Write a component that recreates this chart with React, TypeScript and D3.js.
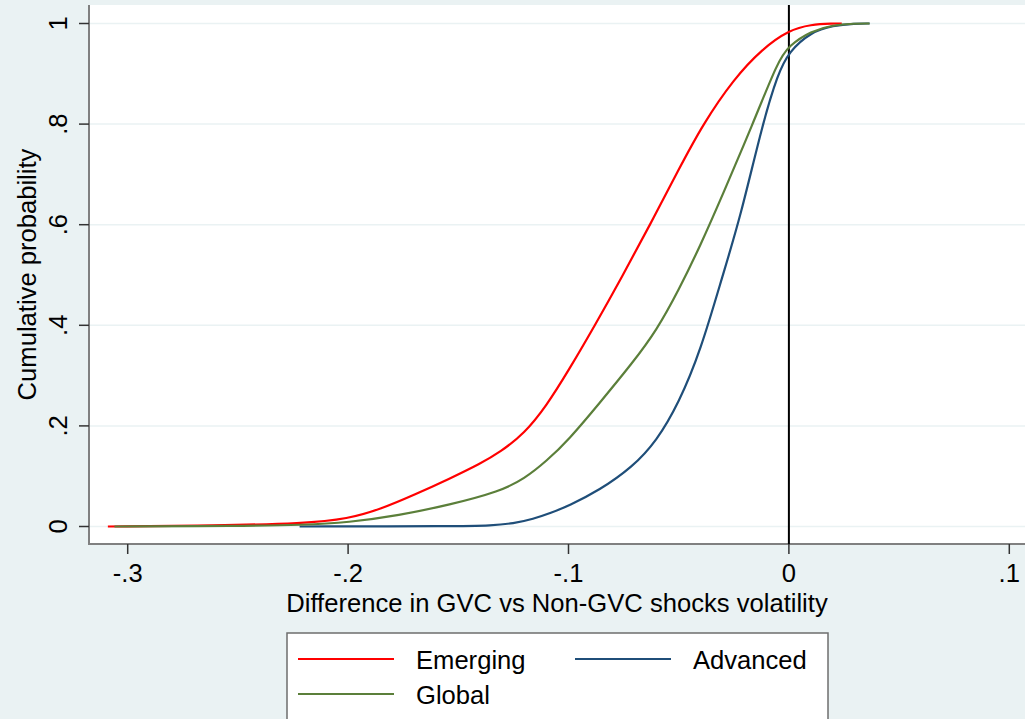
import React from 'react';
import * as d3 from 'd3';

const owidth = 1025;
const oheight = 719;

// plot region (white) and axis placement
const plotLeft = 89;
const plotTop = 5;
const plotRight = 1025;
const plotBottom = 544;

const font = "'Liberation Sans', Arial, Helvetica, sans-serif";
const fontSize = 25.6;

const xTicks = [-0.3, -0.2, -0.1, 0, 0.1];
const xTickLabels = ['-.3', '-.2', '-.1', '0', '.1'];
const yTicks = [0, 0.2, 0.4, 0.6, 0.8, 1];
const yTickLabels = ['0', '.2', '.4', '.6', '.8', '1'];

// smoothed CDFs
const emergingX = [-0.309, -0.26, -0.22, -0.2, -0.185, -0.17, -0.154, -0.14, -0.131, -0.12, -0.11, -0.1, -0.088, -0.076, -0.063, -0.05, -0.039, -0.025, -0.012, 0, 0.01, 0.02, 0.024];
const emergingY = [0, 0.002, 0.006, 0.015, 0.035, 0.063, 0.095, 0.125, 0.148, 0.185, 0.24, 0.31, 0.4, 0.494, 0.6, 0.71, 0.8, 0.89, 0.95, 0.987, 0.998, 1, 1];

const advancedX = [-0.222, -0.15, -0.135, -0.125, -0.116, -0.108, -0.1, -0.086, -0.071, -0.06, -0.05, -0.04, -0.03, -0.022, -0.012, -0.005, 0, 0.01, 0.02, 0.03, 0.0366];
const advancedY = [0, 0.0005, 0.002, 0.006, 0.015, 0.027, 0.041, 0.072, 0.118, 0.17, 0.245, 0.35, 0.5, 0.615, 0.8, 0.9, 0.944, 0.983, 0.996, 1, 1];

const globalX = [-0.306, -0.25, -0.22, -0.2, -0.177, -0.154, -0.131, -0.12, -0.11, -0.1, -0.086, -0.071, -0.06, -0.05, -0.04, -0.03, -0.0164, -0.005, 0, 0.01, 0.02, 0.03, 0.0366];
const globalY = [0, 0.001, 0.003, 0.008, 0.022, 0.043, 0.07, 0.095, 0.13, 0.172, 0.245, 0.325, 0.39, 0.47, 0.56, 0.66, 0.8, 0.925, 0.956, 0.985, 0.997, 1, 1];

const seriesNames = ['Emerging', 'Advanced', 'Global'];
const seriesColors = ['#ff0000', '#1f4e79', '#5b7f3a'];

const xScale = d3.scaleLinear().domain([-0.3, 0.1]).range([127.7, 1009.3]);
const yScale = d3.scaleLinear().domain([0, 1]).range([526.5, 23.5]);

function zip(xs: number[], ys: number[]): [number, number][] {
  return xs.map((x, i) => [x, ys[i]]);
}

const lineGen = d3.line<[number, number]>()
  .x(d => xScale(d[0]))
  .y(d => yScale(d[1]))
  .curve(d3.curveBasis);

function App() {
  const series = [
    zip(emergingX, emergingY),
    zip(advancedX, advancedY),
    zip(globalX, globalY),
  ];

  return (
    <svg
      width={owidth}
      height={oheight}
      viewBox={`0 0 ${owidth} ${oheight}`}
      style={{ position: 'absolute', left: 0, top: 0 }}
      fontFamily={font}
    >
      <rect x={0} y={0} width={owidth} height={oheight} fill="#eaf2f3" />
      <rect x={plotLeft} y={plotTop} width={plotRight - plotLeft} height={plotBottom - plotTop} fill="#ffffff" />

      {/* gridlines */}
      {yTicks.map(t => (
        <line key={`g${t}`} x1={plotLeft} x2={plotRight} y1={yScale(t)} y2={yScale(t)} stroke="#eaf2f3" strokeWidth={1.5} />
      ))}

      {/* axes */}
      <line x1={plotLeft} x2={plotLeft} y1={plotTop} y2={plotBottom + 1} stroke="#808080" strokeWidth={2} />
      <line x1={plotLeft} x2={plotRight} y1={plotBottom} y2={plotBottom} stroke="#808080" strokeWidth={2} />

      {yTicks.map((t, i) => (
        <g key={`y${t}`}>
          <line x1={plotLeft - 10} x2={plotLeft} y1={yScale(t)} y2={yScale(t)} stroke="#333" strokeWidth={1.5} />
          <text
            transform={`translate(67,${yScale(t)}) rotate(-90)`}
            textAnchor="middle"
            fontSize={fontSize}
            fill="#000"
          >{yTickLabels[i]}</text>
        </g>
      ))}

      {xTicks.map((t, i) => (
        <g key={`x${t}`}>
          <line x1={xScale(t)} x2={xScale(t)} y1={plotBottom} y2={plotBottom + 10} stroke="#333" strokeWidth={1.5} />
          <text x={xScale(t)} y={582} textAnchor="middle" fontSize={fontSize} fill="#000">{xTickLabels[i]}</text>
        </g>
      ))}

      <text
        transform={`translate(36,${(plotTop + plotBottom) / 2}) rotate(-90)`}
        textAnchor="middle"
        fontSize={fontSize}
        fill="#000"
      >Cumulative probability</text>
      <text x={(plotLeft + plotRight) / 2} y={612} textAnchor="middle" fontSize={fontSize} fill="#000">
        Difference in GVC vs Non-GVC shocks volatility
      </text>

      {/* zero reference line */}
      <line x1={xScale(0)} x2={xScale(0)} y1={plotTop} y2={plotBottom} stroke="#000" strokeWidth={2} />

      {series.map((s, i) => (
        <path key={seriesNames[i]} d={lineGen(s) || ''} fill="none" stroke={seriesColors[i]} strokeWidth={2.2} />
      ))}

      {/* legend */}
      <rect x={287} y={633} width={541} height={100} fill="#ffffff" stroke="#6e6e6e" strokeWidth={1.5} />
      {seriesNames.map((name, i) => {
        const col = i === 1 ? 1 : 0;
        const row = i === 2 ? 1 : 0;
        const lx = 298 + col * 277;
        const ly = 659 + row * 35;
        return (
          <g key={`l${name}`}>
            <line x1={lx} x2={lx + 96} y1={ly} y2={ly} stroke={seriesColors[i]} strokeWidth={2.2} />
            <text x={lx + 118} y={ly + 10} fontSize={fontSize} fill="#000">{name}</text>
          </g>
        );
      })}
    </svg>
  );
}

export default App;
